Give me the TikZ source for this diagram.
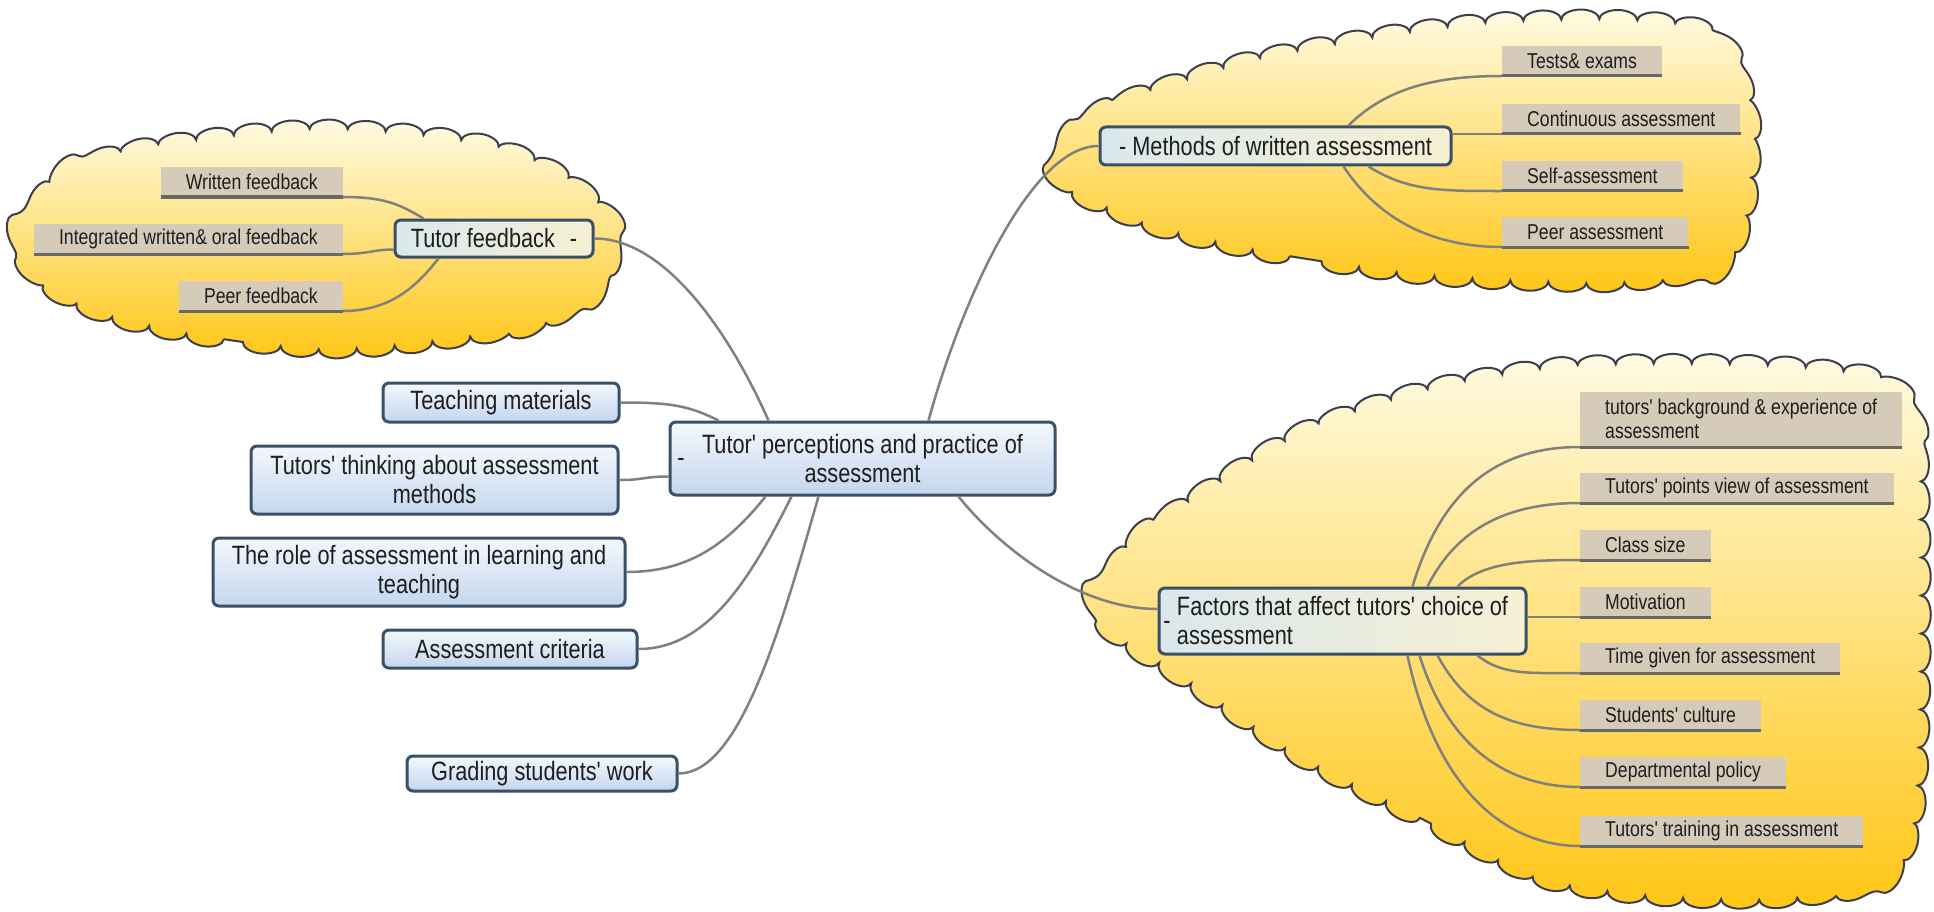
\documentclass[tikz,border=0pt]{standalone}
\usepackage{fontspec}
\setmainfont{Liberation Sans}[FakeStretch=0.82, Ligatures=TeXOff]
\usetikzlibrary{decorations.pathmorphing,calc}

\definecolor{linkgray}{RGB}{128,128,124}
\definecolor{boxedge}{RGB}{58,80,104}
\definecolor{bluetop}{RGB}{244,248,253}
\definecolor{bluebot}{RGB}{196,214,238}
\definecolor{leaftan}{RGB}{214,203,185}
\definecolor{ulgray}{RGB}{105,105,100}
\definecolor{cloudtop}{RGB}{255,251,226}
\definecolor{cloudbot}{RGB}{255,198,22}
\definecolor{cloudedge}{RGB}{60,62,80}
\definecolor{ink}{RGB}{30,30,30}
\definecolor{hubleft}{RGB}{218,232,236}
\definecolor{hubmid}{RGB}{248,249,244}
\definecolor{hubright}{RGB}{246,240,212}

\newcommand\mmbig{\fontsize{26.5}{29}\selectfont}
\newcommand\mmsmall{\fontsize{21.5}{24}\selectfont}

\begin{document}
\begin{tikzpicture}[x=1pt, y=-1pt,
  topic/.style={rounded corners=6pt, draw=boxedge, line width=3pt,
    top color=bluetop, bottom color=bluebot, font=\mmbig, text=ink,
    align=center, inner sep=0pt},
  hub/.style={rounded corners=6pt, draw=boxedge, line width=3pt,
    left color=hubleft, middle color=hubmid, right color=hubright,
    font=\mmbig, text=ink, inner sep=0pt},
  leaf/.style={fill=leaftan, font=\mmsmall, text=ink, inner xsep=25pt,
    inner ysep=0pt, minimum height=30pt},
  link/.style={draw=linkgray, line width=2.5pt},
  ul/.style={draw=ulgray, line width=3pt},
  dashmark/.style={font=\mmbig, text=ink, inner sep=0pt},
  cloudshape/.style={draw=cloudedge, line width=2pt, top color=cloudtop,
    bottom color=cloudbot, decorate,
    decoration={bumps, segment length=76pt, amplitude=10pt}}]

\fill[white] (0,0) rectangle (1934,912);
\useasboundingbox (0,0) rectangle (1934,912);

% clouds behind the three branches (each outline starts on its lower edge)
\path[cloudshape] plot[smooth cycle] coordinates {
  (333,348) (224,339) (117,317) (47,284) (22,240) (59,178) (128,152)
  (224,137) (308,130) (394,133) (488,146) (557,174) (605,214) (611,247)
  (594,289) (535,323) (430,341)};
\path[cloudshape] plot[smooth cycle] coordinates {
  (1420,274) (1290,256) (1180,233) (1110,208) (1072,188) (1060,162)
  (1076,132) (1118,104) (1236,65) (1360,40) (1480,24) (1610,20) (1708,34)
  (1746,100) (1748,190) (1723,260) (1640,280) (1540,281)};
\path[cloudshape] plot[smooth cycle] coordinates {
  (1545,878) (1420,818) (1300,756) (1192,684) (1130,645) (1104,622)
  (1100,596) (1132,545) (1192,500) (1300,434) (1420,392) (1545,369)
  (1665,364) (1790,367) (1878,380) (1913,422) (1920,520) (1920,700)
  (1913,818) (1883,878) (1790,897) (1665,896)};

% central topic
\node[topic, minimum width=385pt, minimum height=73pt] (C) at (862.5,458.5)
  {Tutor' perceptions and practice of\\assessment};
\node[dashmark] (Cdash) at (681,462) {-};

% left-hand topics
\node[topic, minimum width=236pt, minimum height=39pt] (tm) at (501,402.5) {Teaching materials};
\node[topic, minimum width=367pt, minimum height=68pt] (tt) at (434.5,480) {Tutors' thinking about assessment\\methods};
\node[topic, minimum width=412pt, minimum height=68pt] (ro) at (419,572) {The role of assessment in learning and\\teaching};
\node[topic, minimum width=254pt, minimum height=38pt] (ac) at (510,649) {Assessment criteria};
\node[topic, minimum width=270pt, minimum height=35pt] (gs) at (542,773.5) {Grading students' work};

% tutor feedback branch
\node[hub, minimum width=198pt, minimum height=37pt] (TF) at (494,238.5) {Tutor feedback\hspace{15pt}-};
\node[leaf, anchor=south east] (wf) at (343,197) {Written feedback};
\node[leaf, anchor=south east] (iwf) at (343,254) {Integrated written\& oral feedback};
\node[leaf, anchor=south east] (pf) at (343,311) {Peer feedback};

% methods branch
\node[hub, minimum width=351pt, minimum height=38pt] (M) at (1275.5,146) {- Methods of written assessment\hspace{20pt}};
\node[leaf, anchor=south west] (te) at (1502,76) {Tests\& exams};
\node[leaf, anchor=south west] (ca) at (1502,134) {Continuous assessment};
\node[leaf, anchor=south west] (sa) at (1502,191) {Self-assessment};
\node[leaf, anchor=south west] (pa) at (1502,247) {Peer assessment};

% factors branch
\node[hub, minimum width=367pt, minimum height=66pt, align=left] (F) at (1342.5,621)
  {Factors that affect tutors' choice of\\assessment};
\node[dashmark] (Fdash) at (1167,625) {-};
\node[leaf, anchor=south west, align=left, minimum height=55pt] (fb) at (1580,447)
  {tutors' background \& experience of\\assessment};
\node[leaf, anchor=south west] (fp) at (1580,503) {Tutors' points view of assessment};
\node[leaf, anchor=south west, minimum width=126pt] (fc) at (1580,560) {Class size};
\node[leaf, anchor=south west, minimum width=126pt] (fm) at (1580,617) {Motivation};
\node[leaf, anchor=south west] (ft) at (1580,673) {Time given for assessment};
\node[leaf, anchor=south west] (fs) at (1580,730) {Students' culture};
\node[leaf, anchor=south west] (fd) at (1580,787) {Departmental policy};
\node[leaf, anchor=south west] (fr) at (1580,846) {Tutors' training in assessment};

% underlines of the leaf labels
\foreach \n in {wf,iwf,pf,te,ca,sa,pa,fb,fp,fc,fm,ft,fs,fd,fr}
  \draw[ul] (\n.south west) -- (\n.south east);

% connectors around the central topic
\draw[link] (TF.east) .. controls +(70,0) and +(-40,-90) .. ([xshift=100pt]C.north west);
\draw[link] (tm.east) .. controls +(50,0) and +(-30,-15) .. ([xshift=50pt]C.north west);
\draw[link] (tt.east) .. controls +(25,0) and +(-25,0) .. ([yshift=-18pt]C.west);
\draw[link] (ro.east) .. controls +(60,0) and +(-40,50) .. ([xshift=97pt]C.south west);
\draw[link] (ac.east) .. controls +(70,0) and +(-40,80) .. ([xshift=123pt]C.south west);
\draw[link] (gs.east) .. controls +(60,0) and +(-40,140) .. ([xshift=150pt]C.south west);
\draw[link] ([xshift=260pt]C.north west) .. controls +(30,-110) and +(-70,0) .. (M.west);
\draw[link] ([xshift=290pt]C.south west) .. controls +(40,50) and +(-80,0) .. ([yshift=12pt]F.west);

% tutor feedback leaves
\draw[link] (wf.south east) .. controls +(40,0) and +(-25,-15) .. ([xshift=30pt]TF.north west);
\draw[link] (iwf.south east) .. controls +(25,0) and +(-20,0) .. ([yshift=-11pt]TF.west);
\draw[link] (pf.south east) .. controls +(50,0) and +(-20,25) .. ([xshift=45pt]TF.south west);

% methods leaves
\draw[link] ([xshift=250pt]M.north west) .. controls +(40,-40) and +(-60,0) .. (te.south west);
\draw[link] ([yshift=12pt]M.east) -- (ca.south west);
\draw[link] ([xshift=270pt]M.south west) .. controls +(40,25) and +(-60,0) .. (sa.south west);
\draw[link] ([xshift=245pt]M.south west) .. controls +(40,60) and +(-60,0) .. (pa.south west);

% factors leaves
\draw[link] ([xshift=255pt]F.north west) .. controls +(30,-100) and +(-80,0) .. (fb.south west);
\draw[link] ([xshift=270pt]F.north west) .. controls +(30,-60) and +(-70,0) .. (fp.south west);
\draw[link] ([xshift=300pt]F.north west) .. controls +(25,-25) and +(-50,0) .. (fc.south west);
\draw[link] ([yshift=4pt]F.east) -- (fm.south west);
\draw[link] ([xshift=320pt]F.south west) .. controls +(25,20) and +(-50,0) .. (ft.south west);
\draw[link] ([xshift=280pt]F.south west) .. controls +(30,55) and +(-70,0) .. (fs.south west);
\draw[link] ([xshift=262pt]F.south west) .. controls +(30,95) and +(-70,0) .. (fd.south west);
\draw[link] ([xshift=250pt]F.south west) .. controls +(30,140) and +(-70,0) .. (fr.south west);
\end{tikzpicture}
\end{document}
